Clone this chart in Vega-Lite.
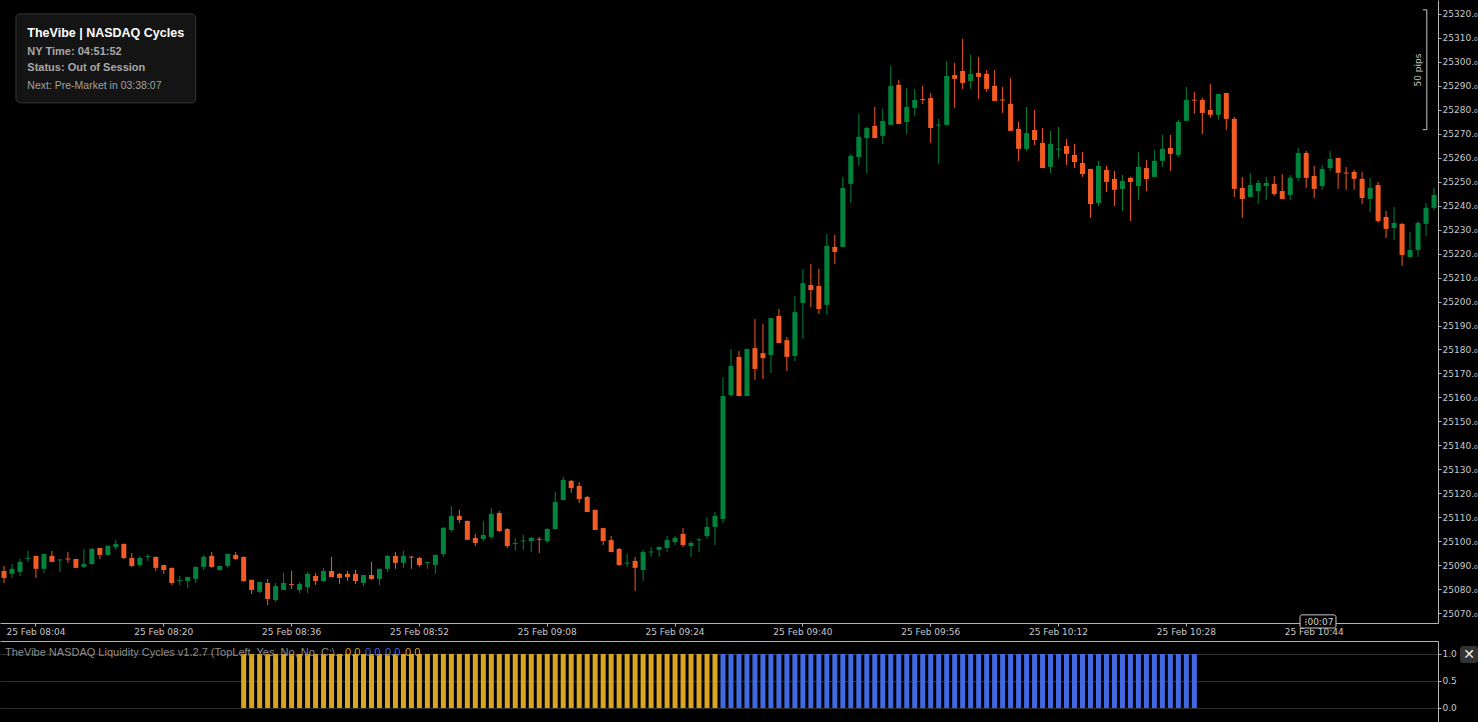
{
  "$schema": "https://vega.github.io/schema/vega-lite/v6.json",
  "background": "#000000",
  "padding": 0,
  "spacing": 5,
  "config": {
    "view": {"stroke": null},
    "axis": {"labelFont": "DejaVu Sans", "labelFontSize": 9, "labelColor": "#c8c8c8", "domainColor": "#b4b4b4", "tickColor": "#b4b4b4", "tickSize": 3, "title": null, "labelOverlap": false}
  },
  "datasets": {
    "candles": [
      {"t":"08:00","o":25087.6,"h":25089.7,"l":25082.6,"c":25084.7},
      {"t":"08:01","o":25086.4,"h":25090.5,"l":25084.7,"c":25088.5},
      {"t":"08:02","o":25087.2,"h":25092.6,"l":25085.5,"c":25091.4},
      {"t":"08:03","o":25092.7,"h":25096.0,"l":25091.4,"c":25093.1},
      {"t":"08:04","o":25093.9,"h":25094.0,"l":25084.7,"c":25088.5},
      {"t":"08:05","o":25088.5,"h":25094.8,"l":25086.8,"c":25094.7},
      {"t":"08:06","o":25093.9,"h":25096.0,"l":25091.3,"c":25091.4},
      {"t":"08:07","o":25092.0,"h":25092.6,"l":25087.2,"c":25092.4},
      {"t":"08:08","o":25092.8,"h":25095.5,"l":25091.0,"c":25092.4},
      {"t":"08:09","o":25092.6,"h":25092.7,"l":25088.8,"c":25088.9},
      {"t":"08:10","o":25089.3,"h":25096.8,"l":25088.9,"c":25090.5},
      {"t":"08:11","o":25090.5,"h":25097.2,"l":25090.1,"c":25096.8},
      {"t":"08:12","o":25097.2,"h":25097.3,"l":25092.6,"c":25094.3},
      {"t":"08:13","o":25094.3,"h":25098.2,"l":25093.9,"c":25098.1},
      {"t":"08:14","o":25097.6,"h":25100.6,"l":25096.4,"c":25098.9},
      {"t":"08:15","o":25098.9,"h":25099.0,"l":25092.6,"c":25093.0},
      {"t":"08:16","o":25093.0,"h":25095.1,"l":25089.3,"c":25089.7},
      {"t":"08:17","o":25090.1,"h":25093.9,"l":25089.3,"c":25093.0},
      {"t":"08:18","o":25093.4,"h":25094.7,"l":25091.8,"c":25093.8},
      {"t":"08:19","o":25093.5,"h":25093.6,"l":25087.6,"c":25088.9},
      {"t":"08:20","o":25090.1,"h":25090.2,"l":25086.4,"c":25088.0},
      {"t":"08:21","o":25088.9,"h":25089.0,"l":25081.8,"c":25082.6},
      {"t":"08:22","o":25083.4,"h":25085.5,"l":25081.8,"c":25083.8},
      {"t":"08:23","o":25083.4,"h":25085.2,"l":25080.5,"c":25085.1},
      {"t":"08:24","o":25084.3,"h":25089.4,"l":25082.6,"c":25089.3},
      {"t":"08:25","o":25089.3,"h":25094.3,"l":25088.0,"c":25093.5},
      {"t":"08:26","o":25093.9,"h":25095.5,"l":25088.9,"c":25089.3},
      {"t":"08:27","o":25088.0,"h":25089.8,"l":25087.6,"c":25089.7},
      {"t":"08:28","o":25089.7,"h":25094.8,"l":25088.9,"c":25094.7},
      {"t":"08:29","o":25094.3,"h":25095.5,"l":25092.2,"c":25092.6},
      {"t":"08:30","o":25093.5,"h":25093.6,"l":25083.0,"c":25083.4},
      {"t":"08:31","o":25083.9,"h":25084.0,"l":25078.0,"c":25079.7},
      {"t":"08:32","o":25078.9,"h":25083.1,"l":25078.4,"c":25083.0},
      {"t":"08:33","o":25082.6,"h":25084.3,"l":25073.4,"c":25075.9},
      {"t":"08:34","o":25075.5,"h":25082.6,"l":25074.7,"c":25081.3},
      {"t":"08:35","o":25079.7,"h":25086.8,"l":25079.6,"c":25082.6},
      {"t":"08:36","o":25082.2,"h":25087.6,"l":25080.1,"c":25081.8},
      {"t":"08:37","o":25079.7,"h":25083.0,"l":25078.4,"c":25082.2},
      {"t":"08:38","o":25080.9,"h":25087.2,"l":25078.4,"c":25086.4},
      {"t":"08:39","o":25085.5,"h":25086.8,"l":25081.8,"c":25083.4},
      {"t":"08:40","o":25083.4,"h":25088.9,"l":25083.0,"c":25087.6},
      {"t":"08:41","o":25087.6,"h":25093.5,"l":25085.0,"c":25085.1},
      {"t":"08:42","o":25086.4,"h":25086.8,"l":25082.2,"c":25084.7},
      {"t":"08:43","o":25086.4,"h":25087.6,"l":25083.4,"c":25085.1},
      {"t":"08:44","o":25086.4,"h":25088.0,"l":25082.2,"c":25083.4},
      {"t":"08:45","o":25082.6,"h":25086.0,"l":25081.3,"c":25085.9},
      {"t":"08:46","o":25085.9,"h":25091.4,"l":25083.9,"c":25084.3},
      {"t":"08:47","o":25084.3,"h":25088.6,"l":25081.8,"c":25088.5},
      {"t":"08:48","o":25088.5,"h":25094.3,"l":25087.2,"c":25093.9},
      {"t":"08:49","o":25093.9,"h":25095.5,"l":25088.5,"c":25091.0},
      {"t":"08:50","o":25091.0,"h":25096.0,"l":25088.9,"c":25093.9},
      {"t":"08:51","o":25093.6,"h":25093.9,"l":25088.5,"c":25093.2},
      {"t":"08:52","o":25093.0,"h":25093.5,"l":25089.3,"c":25090.1},
      {"t":"08:53","o":25090.9,"h":25091.4,"l":25088.5,"c":25091.3},
      {"t":"08:54","o":25090.1,"h":25094.4,"l":25086.4,"c":25094.3},
      {"t":"08:55","o":25094.7,"h":25105.9,"l":25093.5,"c":25105.6},
      {"t":"08:56","o":25104.7,"h":25114.7,"l":25103.9,"c":25110.6},
      {"t":"08:57","o":25110.6,"h":25113.1,"l":25107.6,"c":25108.9},
      {"t":"08:58","o":25108.5,"h":25108.6,"l":25100.5,"c":25100.6},
      {"t":"08:59","o":25101.4,"h":25103.1,"l":25098.0,"c":25099.3},
      {"t":"09:00","o":25101.0,"h":25108.5,"l":25100.1,"c":25102.6},
      {"t":"09:01","o":25101.8,"h":25113.9,"l":25101.0,"c":25111.4},
      {"t":"09:02","o":25111.8,"h":25112.6,"l":25103.9,"c":25104.3},
      {"t":"09:03","o":25105.1,"h":25105.5,"l":25097.2,"c":25098.0},
      {"t":"09:04","o":25098.9,"h":25101.4,"l":25096.0,"c":25099.3},
      {"t":"09:05","o":25099.9,"h":25102.6,"l":25096.4,"c":25100.3},
      {"t":"09:06","o":25100.1,"h":25101.8,"l":25095.5,"c":25101.4},
      {"t":"09:07","o":25101.0,"h":25101.8,"l":25095.1,"c":25100.6},
      {"t":"09:08","o":25100.1,"h":25105.5,"l":25099.3,"c":25105.1},
      {"t":"09:09","o":25105.1,"h":25120.6,"l":25105.0,"c":25116.4},
      {"t":"09:10","o":25117.2,"h":25126.8,"l":25117.1,"c":25125.6},
      {"t":"09:11","o":25125.2,"h":25125.6,"l":25120.2,"c":25122.2},
      {"t":"09:12","o":25123.1,"h":25124.7,"l":25116.0,"c":25117.6},
      {"t":"09:13","o":25118.5,"h":25118.9,"l":25112.1,"c":25112.2},
      {"t":"09:14","o":25113.1,"h":25113.2,"l":25104.6,"c":25104.7},
      {"t":"09:15","o":25105.5,"h":25105.6,"l":25098.4,"c":25100.1},
      {"t":"09:16","o":25100.5,"h":25102.2,"l":25095.4,"c":25095.5},
      {"t":"09:17","o":25096.8,"h":25097.2,"l":25089.7,"c":25090.1},
      {"t":"09:18","o":25090.7,"h":25094.7,"l":25089.3,"c":25091.1},
      {"t":"09:19","o":25091.8,"h":25093.5,"l":25079.3,"c":25088.9},
      {"t":"09:20","o":25088.0,"h":25096.4,"l":25083.4,"c":25095.5},
      {"t":"09:21","o":25095.3,"h":25097.6,"l":25093.5,"c":25095.7},
      {"t":"09:22","o":25096.4,"h":25098.0,"l":25093.5,"c":25097.6},
      {"t":"09:23","o":25097.2,"h":25102.2,"l":25095.5,"c":25100.5},
      {"t":"09:24","o":25099.7,"h":25102.2,"l":25098.4,"c":25101.4},
      {"t":"09:25","o":25103.1,"h":25105.5,"l":25097.6,"c":25098.4},
      {"t":"09:26","o":25098.0,"h":25100.1,"l":25093.5,"c":25099.3},
      {"t":"09:27","o":25100.4,"h":25101.4,"l":25095.5,"c":25100.8},
      {"t":"09:28","o":25102.2,"h":25110.1,"l":25101.0,"c":25106.0},
      {"t":"09:29","o":25106.0,"h":25112.2,"l":25098.4,"c":25110.6},
      {"t":"09:30","o":25109.3,"h":25168.5,"l":25107.6,"c":25160.6},
      {"t":"09:31","o":25161.0,"h":25180.2,"l":25160.5,"c":25173.1},
      {"t":"09:32","o":25176.9,"h":25179.4,"l":25160.5,"c":25160.6},
      {"t":"09:33","o":25160.6,"h":25180.3,"l":25160.5,"c":25180.2},
      {"t":"09:34","o":25180.6,"h":25192.7,"l":25167.3,"c":25171.9},
      {"t":"09:35","o":25178.5,"h":25190.6,"l":25167.7,"c":25176.4},
      {"t":"09:36","o":25177.7,"h":25193.2,"l":25170.2,"c":25193.1},
      {"t":"09:37","o":25194.0,"h":25196.9,"l":25182.6,"c":25182.7},
      {"t":"09:38","o":25183.9,"h":25185.2,"l":25171.0,"c":25176.9},
      {"t":"09:39","o":25177.3,"h":25202.3,"l":25175.2,"c":25195.6},
      {"t":"09:40","o":25199.4,"h":25213.6,"l":25184.4,"c":25207.7},
      {"t":"09:41","o":25206.9,"h":25215.7,"l":25197.7,"c":25204.8},
      {"t":"09:42","o":25206.5,"h":25213.6,"l":25194.8,"c":25196.9},
      {"t":"09:43","o":25198.6,"h":25228.2,"l":25194.4,"c":25223.2},
      {"t":"09:44","o":25222.8,"h":25227.8,"l":25215.7,"c":25220.7},
      {"t":"09:45","o":25222.8,"h":25252.0,"l":25222.7,"c":25247.4},
      {"t":"09:46","o":25249.1,"h":25261.6,"l":25241.1,"c":25260.7},
      {"t":"09:47","o":25260.3,"h":25278.3,"l":25256.6,"c":25268.7},
      {"t":"09:48","o":25268.2,"h":25272.8,"l":25253.6,"c":25272.4},
      {"t":"09:49","o":25273.3,"h":25281.2,"l":25268.1,"c":25268.2},
      {"t":"09:50","o":25269.1,"h":25280.4,"l":25265.8,"c":25275.3},
      {"t":"09:51","o":25273.7,"h":25298.3,"l":25273.6,"c":25289.9},
      {"t":"09:52","o":25290.4,"h":25292.5,"l":25274.0,"c":25274.1},
      {"t":"09:53","o":25274.9,"h":25289.1,"l":25269.9,"c":25281.2},
      {"t":"09:54","o":25280.8,"h":25288.7,"l":25277.4,"c":25284.1},
      {"t":"09:55","o":25284.5,"h":25290.0,"l":25282.4,"c":25284.1},
      {"t":"09:56","o":25284.9,"h":25287.0,"l":25266.2,"c":25272.4},
      {"t":"09:57","o":25273.4,"h":25276.2,"l":25257.4,"c":25273.8},
      {"t":"09:58","o":25273.7,"h":25300.4,"l":25273.3,"c":25294.1},
      {"t":"09:59","o":25294.5,"h":25299.6,"l":25280.8,"c":25292.9},
      {"t":"10:00","o":25296.2,"h":25309.6,"l":25288.7,"c":25291.2},
      {"t":"10:01","o":25292.0,"h":25302.9,"l":25288.7,"c":25295.0},
      {"t":"10:02","o":25295.4,"h":25302.0,"l":25284.5,"c":25293.7},
      {"t":"10:03","o":25295.0,"h":25296.6,"l":25287.5,"c":25288.7},
      {"t":"10:04","o":25290.0,"h":25296.6,"l":25283.6,"c":25283.7},
      {"t":"10:05","o":25284.3,"h":25289.5,"l":25278.7,"c":25283.9},
      {"t":"10:06","o":25282.5,"h":25293.3,"l":25271.1,"c":25271.2},
      {"t":"10:07","o":25272.0,"h":25274.9,"l":25258.7,"c":25263.7},
      {"t":"10:08","o":25263.7,"h":25281.2,"l":25262.8,"c":25270.3},
      {"t":"10:09","o":25271.6,"h":25279.9,"l":25265.3,"c":25267.4},
      {"t":"10:10","o":25266.2,"h":25272.4,"l":25255.6,"c":25255.7},
      {"t":"10:11","o":25256.2,"h":25271.2,"l":25253.7,"c":25265.8},
      {"t":"10:12","o":25263.4,"h":25272.8,"l":25259.9,"c":25263.8},
      {"t":"10:13","o":25264.9,"h":25267.8,"l":25257.0,"c":25261.6},
      {"t":"10:14","o":25261.2,"h":25265.8,"l":25255.7,"c":25258.2},
      {"t":"10:15","o":25257.8,"h":25262.4,"l":25252.0,"c":25253.2},
      {"t":"10:16","o":25255.3,"h":25255.4,"l":25234.9,"c":25240.7},
      {"t":"10:17","o":25241.1,"h":25258.7,"l":25239.9,"c":25256.6},
      {"t":"10:18","o":25254.9,"h":25256.6,"l":25245.7,"c":25249.9},
      {"t":"10:19","o":25251.2,"h":25254.5,"l":25239.9,"c":25246.6},
      {"t":"10:20","o":25247.0,"h":25252.8,"l":25237.8,"c":25250.3},
      {"t":"10:21","o":25251.6,"h":25252.0,"l":25233.6,"c":25249.9},
      {"t":"10:22","o":25248.2,"h":25262.4,"l":25242.4,"c":25256.2},
      {"t":"10:23","o":25255.7,"h":25259.1,"l":25246.1,"c":25251.1},
      {"t":"10:24","o":25252.0,"h":25263.2,"l":25251.9,"c":25258.7},
      {"t":"10:25","o":25258.7,"h":25269.5,"l":25256.2,"c":25263.7},
      {"t":"10:26","o":25264.1,"h":25269.5,"l":25254.5,"c":25261.6},
      {"t":"10:27","o":25261.2,"h":25275.8,"l":25260.3,"c":25274.9},
      {"t":"10:28","o":25275.4,"h":25289.5,"l":25275.3,"c":25284.1},
      {"t":"10:29","o":25284.2,"h":25287.5,"l":25278.3,"c":25283.8},
      {"t":"10:30","o":25284.1,"h":25285.0,"l":25269.9,"c":25278.7},
      {"t":"10:31","o":25279.9,"h":25290.8,"l":25276.6,"c":25277.9},
      {"t":"10:32","o":25277.9,"h":25286.7,"l":25275.8,"c":25286.6},
      {"t":"10:33","o":25287.0,"h":25287.1,"l":25271.6,"c":25276.2},
      {"t":"10:34","o":25276.2,"h":25277.0,"l":25243.6,"c":25247.0},
      {"t":"10:35","o":25247.4,"h":25252.0,"l":25234.9,"c":25242.8},
      {"t":"10:36","o":25243.6,"h":25253.7,"l":25243.5,"c":25248.6},
      {"t":"10:37","o":25246.1,"h":25250.7,"l":25240.7,"c":25249.5},
      {"t":"10:38","o":25248.2,"h":25252.0,"l":25242.4,"c":25249.5},
      {"t":"10:39","o":25249.1,"h":25252.4,"l":25244.1,"c":25244.9},
      {"t":"10:40","o":25246.1,"h":25253.2,"l":25242.7,"c":25242.8},
      {"t":"10:41","o":25244.5,"h":25252.8,"l":25242.4,"c":25251.6},
      {"t":"10:42","o":25251.6,"h":25264.1,"l":25250.3,"c":25262.0},
      {"t":"10:43","o":25262.0,"h":25262.8,"l":25247.4,"c":25251.6},
      {"t":"10:44","o":25252.4,"h":25256.6,"l":25243.2,"c":25247.0},
      {"t":"10:45","o":25248.2,"h":25257.0,"l":25246.6,"c":25255.3},
      {"t":"10:46","o":25255.7,"h":25262.8,"l":25254.5,"c":25259.5},
      {"t":"10:47","o":25259.9,"h":25260.0,"l":25247.0,"c":25253.7},
      {"t":"10:48","o":25253.8,"h":25256.2,"l":25246.6,"c":25253.4},
      {"t":"10:49","o":25254.1,"h":25254.9,"l":25246.6,"c":25251.2},
      {"t":"10:50","o":25251.2,"h":25254.1,"l":25240.7,"c":25243.2},
      {"t":"10:51","o":25242.8,"h":25251.6,"l":25237.4,"c":25247.4},
      {"t":"10:52","o":25248.6,"h":25249.9,"l":25232.8,"c":25233.6},
      {"t":"10:53","o":25235.3,"h":25237.8,"l":25226.5,"c":25230.3},
      {"t":"10:54","o":25230.7,"h":25239.5,"l":25225.7,"c":25232.8},
      {"t":"10:55","o":25232.4,"h":25232.8,"l":25214.9,"c":25219.4},
      {"t":"10:56","o":25218.6,"h":25229.0,"l":25218.2,"c":25221.5},
      {"t":"10:57","o":25221.5,"h":25233.6,"l":25218.6,"c":25232.8},
      {"t":"10:58","o":25232.4,"h":25241.1,"l":25227.4,"c":25239.1},
      {"t":"10:59","o":25239.1,"h":25247.4,"l":25238.2,"c":25244.5}
    ],
    "cycles": [
      {"t":"08:30","v":1,"ph":"pre"},{"t":"08:31","v":1,"ph":"pre"},{"t":"08:32","v":1,"ph":"pre"},{"t":"08:33","v":1,"ph":"pre"},{"t":"08:34","v":1,"ph":"pre"},
      {"t":"08:35","v":1,"ph":"pre"},{"t":"08:36","v":1,"ph":"pre"},{"t":"08:37","v":1,"ph":"pre"},{"t":"08:38","v":1,"ph":"pre"},{"t":"08:39","v":1,"ph":"pre"},
      {"t":"08:40","v":1,"ph":"pre"},{"t":"08:41","v":1,"ph":"pre"},{"t":"08:42","v":1,"ph":"pre"},{"t":"08:43","v":1,"ph":"pre"},{"t":"08:44","v":1,"ph":"pre"},
      {"t":"08:45","v":1,"ph":"pre"},{"t":"08:46","v":1,"ph":"pre"},{"t":"08:47","v":1,"ph":"pre"},{"t":"08:48","v":1,"ph":"pre"},{"t":"08:49","v":1,"ph":"pre"},
      {"t":"08:50","v":1,"ph":"pre"},{"t":"08:51","v":1,"ph":"pre"},{"t":"08:52","v":1,"ph":"pre"},{"t":"08:53","v":1,"ph":"pre"},{"t":"08:54","v":1,"ph":"pre"},
      {"t":"08:55","v":1,"ph":"pre"},{"t":"08:56","v":1,"ph":"pre"},{"t":"08:57","v":1,"ph":"pre"},{"t":"08:58","v":1,"ph":"pre"},{"t":"08:59","v":1,"ph":"pre"},
      {"t":"09:00","v":1,"ph":"pre"},{"t":"09:01","v":1,"ph":"pre"},{"t":"09:02","v":1,"ph":"pre"},{"t":"09:03","v":1,"ph":"pre"},{"t":"09:04","v":1,"ph":"pre"},
      {"t":"09:05","v":1,"ph":"pre"},{"t":"09:06","v":1,"ph":"pre"},{"t":"09:07","v":1,"ph":"pre"},{"t":"09:08","v":1,"ph":"pre"},{"t":"09:09","v":1,"ph":"pre"},
      {"t":"09:10","v":1,"ph":"pre"},{"t":"09:11","v":1,"ph":"pre"},{"t":"09:12","v":1,"ph":"pre"},{"t":"09:13","v":1,"ph":"pre"},{"t":"09:14","v":1,"ph":"pre"},
      {"t":"09:15","v":1,"ph":"pre"},{"t":"09:16","v":1,"ph":"pre"},{"t":"09:17","v":1,"ph":"pre"},{"t":"09:18","v":1,"ph":"pre"},{"t":"09:19","v":1,"ph":"pre"},
      {"t":"09:20","v":1,"ph":"pre"},{"t":"09:21","v":1,"ph":"pre"},{"t":"09:22","v":1,"ph":"pre"},{"t":"09:23","v":1,"ph":"pre"},{"t":"09:24","v":1,"ph":"pre"},
      {"t":"09:25","v":1,"ph":"pre"},{"t":"09:26","v":1,"ph":"pre"},{"t":"09:27","v":1,"ph":"pre"},{"t":"09:28","v":1,"ph":"pre"},{"t":"09:29","v":1,"ph":"pre"},
      {"t":"09:30","v":1,"ph":"open"},{"t":"09:31","v":1,"ph":"open"},{"t":"09:32","v":1,"ph":"open"},{"t":"09:33","v":1,"ph":"open"},{"t":"09:34","v":1,"ph":"open"},
      {"t":"09:35","v":1,"ph":"open"},{"t":"09:36","v":1,"ph":"open"},{"t":"09:37","v":1,"ph":"open"},{"t":"09:38","v":1,"ph":"open"},{"t":"09:39","v":1,"ph":"open"},
      {"t":"09:40","v":1,"ph":"open"},{"t":"09:41","v":1,"ph":"open"},{"t":"09:42","v":1,"ph":"open"},{"t":"09:43","v":1,"ph":"open"},{"t":"09:44","v":1,"ph":"open"},
      {"t":"09:45","v":1,"ph":"open"},{"t":"09:46","v":1,"ph":"open"},{"t":"09:47","v":1,"ph":"open"},{"t":"09:48","v":1,"ph":"open"},{"t":"09:49","v":1,"ph":"open"},
      {"t":"09:50","v":1,"ph":"open"},{"t":"09:51","v":1,"ph":"open"},{"t":"09:52","v":1,"ph":"open"},{"t":"09:53","v":1,"ph":"open"},{"t":"09:54","v":1,"ph":"open"},
      {"t":"09:55","v":1,"ph":"open"},{"t":"09:56","v":1,"ph":"open"},{"t":"09:57","v":1,"ph":"open"},{"t":"09:58","v":1,"ph":"open"},{"t":"09:59","v":1,"ph":"open"},
      {"t":"10:00","v":1,"ph":"open"},{"t":"10:01","v":1,"ph":"open"},{"t":"10:02","v":1,"ph":"open"},{"t":"10:03","v":1,"ph":"open"},{"t":"10:04","v":1,"ph":"open"},
      {"t":"10:05","v":1,"ph":"open"},{"t":"10:06","v":1,"ph":"open"},{"t":"10:07","v":1,"ph":"open"},{"t":"10:08","v":1,"ph":"open"},{"t":"10:09","v":1,"ph":"open"},
      {"t":"10:10","v":1,"ph":"open"},{"t":"10:11","v":1,"ph":"open"},{"t":"10:12","v":1,"ph":"open"},{"t":"10:13","v":1,"ph":"open"},{"t":"10:14","v":1,"ph":"open"},
      {"t":"10:15","v":1,"ph":"open"},{"t":"10:16","v":1,"ph":"open"},{"t":"10:17","v":1,"ph":"open"},{"t":"10:18","v":1,"ph":"open"},{"t":"10:19","v":1,"ph":"open"},
      {"t":"10:20","v":1,"ph":"open"},{"t":"10:21","v":1,"ph":"open"},{"t":"10:22","v":1,"ph":"open"},{"t":"10:23","v":1,"ph":"open"},{"t":"10:24","v":1,"ph":"open"},
      {"t":"10:25","v":1,"ph":"open"},{"t":"10:26","v":1,"ph":"open"},{"t":"10:27","v":1,"ph":"open"},{"t":"10:28","v":1,"ph":"open"},{"t":"10:29","v":1,"ph":"open"}
    ]
  },
  "resolve": {"scale": {"x": "shared"}},
  "vconcat": [
    {
      "width": 1438,
      "height": 623,
      "layer": [
        {
          "data": {"name": "candles"},
          "mark": {"type": "rule", "strokeWidth": 1},
          "encoding": {
            "x": {"field": "t", "type": "ordinal", "scale": {"paddingInner": 0, "paddingOuter": 0},
              "axis": {"values": ["08:04","08:20","08:36","08:52","09:08","09:24","09:40","09:56","10:12","10:28","10:44"], "labelExpr": "'25 Feb ' + datum.value", "bandPosition": 0.5, "labelAngle": 0, "labelPadding": 1, "grid": false}},
            "y": {"field": "l", "type": "quantitative", "scale": {"domain": [25065.9, 25325.8], "nice": false, "zero": false},
              "axis": {"orient": "right", "values": [25070,25080,25090,25100,25110,25120,25130,25140,25150,25160,25170,25180,25190,25200,25210,25220,25230,25240,25250,25260,25270,25280,25290,25300,25310,25320], "labelExpr": "format(datum.value, 'd') + '.₀'", "labelPadding": 1, "grid": false, "labelOverlap": false, "labelSeparation": 0, "labelBound": false, "tickCount": 26}},
            "y2": {"field": "h"},
            "color": {"condition": {"test": "datum.c > datum.o", "value": "#00843d"}, "value": "#f25b24"}
          }
        },
        {
          "data": {"name": "candles"},
          "mark": {"type": "bar", "size": 5},
          "encoding": {
            "x": {"field": "t", "type": "ordinal"},
            "y": {"field": "o", "type": "quantitative"},
            "y2": {"field": "c"},
            "color": {"condition": {"test": "datum.c > datum.o", "value": "#00843d"}, "value": "#f25b24"}
          }
        },
        {
          "data": {"values": [{}]},
          "mark": {"type": "rect", "fill": "#141414", "stroke": "#363636", "strokeWidth": 1, "cornerRadius": 4},
          "encoding": {
            "x": {"datum": "08:02", "type": "ordinal", "bandPosition": 0},
            "x2": {"datum": "08:24", "bandPosition": 0.5},
            "y": {"datum": 25320.0, "type": "quantitative"},
            "y2": {"datum": 25282.9}
          }
        },
        {
          "data": {"values": [{}]},
          "mark": {"type": "text", "align": "left", "baseline": "middle", "font": "Liberation Sans", "fontSize": 12.5, "fontWeight": "bold", "color": "#ffffff"},
          "encoding": {"x": {"datum": "08:03", "type": "ordinal", "bandPosition": 0.42}, "y": {"datum": 25312.2, "type": "quantitative"}, "text": {"value": "TheVibe | NASDAQ Cycles"}}
        },
        {
          "data": {"values": [{}]},
          "mark": {"type": "text", "align": "left", "baseline": "middle", "font": "Liberation Sans", "fontSize": 11, "fontWeight": "bold", "color": "#a8a8a8"},
          "encoding": {"x": {"datum": "08:03", "type": "ordinal", "bandPosition": 0.42}, "y": {"datum": 25304.3, "type": "quantitative"}, "text": {"value": "NY Time: 04:51:52"}}
        },
        {
          "data": {"values": [{}]},
          "mark": {"type": "text", "align": "left", "baseline": "middle", "font": "Liberation Sans", "fontSize": 11, "fontWeight": "bold", "color": "#a8a8a8"},
          "encoding": {"x": {"datum": "08:03", "type": "ordinal", "bandPosition": 0.42}, "y": {"datum": 25297.6, "type": "quantitative"}, "text": {"value": "Status: Out of Session"}}
        },
        {
          "data": {"values": [{}]},
          "mark": {"type": "text", "align": "left", "baseline": "middle", "font": "Liberation Sans", "fontSize": 10.5, "color": "#a0a0a0"},
          "encoding": {"x": {"datum": "08:03", "type": "ordinal", "bandPosition": 0.42}, "y": {"datum": 25289.8, "type": "quantitative"}, "text": {"value": "Next: Pre-Market in 03:38:07"}}
        },
        {
          "data": {"values": [{}]},
          "mark": {"type": "rule", "color": "#c8c8c8"},
          "encoding": {"x": {"datum": "10:58", "type": "ordinal", "bandPosition": 0.6}, "y": {"datum": 25321.7, "type": "quantitative"}, "y2": {"datum": 25271.7}}
        },
        {
          "data": {"values": [{}]},
          "mark": {"type": "rule", "color": "#c8c8c8"},
          "encoding": {"x": {"datum": "10:58", "type": "ordinal", "bandPosition": 0.1}, "x2": {"datum": "10:58", "bandPosition": 0.6}, "y": {"datum": 25321.7, "type": "quantitative"}}
        },
        {
          "data": {"values": [{}]},
          "mark": {"type": "rule", "color": "#c8c8c8"},
          "encoding": {"x": {"datum": "10:58", "type": "ordinal", "bandPosition": 0.1}, "x2": {"datum": "10:58", "bandPosition": 0.6}, "y": {"datum": 25271.7, "type": "quantitative"}}
        },
        {
          "data": {"values": [{}]},
          "mark": {"type": "text", "angle": 270, "align": "center", "baseline": "middle", "font": "DejaVu Sans", "fontSize": 9, "color": "#c8c8c8"},
          "encoding": {"x": {"datum": "10:57", "type": "ordinal"}, "y": {"datum": 25296.6, "type": "quantitative"}, "text": {"value": "50 pips"}}
        },
        {
          "data": {"values": [{}]},
          "mark": {"type": "rect", "fill": "#000000", "stroke": "#c8c8c8", "strokeWidth": 1, "cornerRadius": 2},
          "encoding": {
            "x": {"datum": "10:42", "type": "ordinal", "bandPosition": 0.73},
            "x2": {"datum": "10:47", "bandPosition": 0.23},
            "y": {"datum": 25069.3, "type": "quantitative"},
            "y2": {"datum": 25063.8}
          }
        },
        {
          "data": {"values": [{}]},
          "mark": {"type": "text", "align": "center", "baseline": "middle", "font": "DejaVu Sans", "fontSize": 9, "color": "#d0d0d0"},
          "encoding": {"x": {"datum": "10:45", "type": "ordinal", "bandPosition": 0.1}, "y": {"datum": 25066.5, "type": "quantitative"}, "text": {"value": "⁞00:07"}}
        }
      ]
    },
    {
      "width": 1438,
      "height": 81,
      "layer": [
        {
          "data": {"name": "cycles"},
          "mark": {"type": "bar", "size": 5},
          "encoding": {
            "x": {"field": "t", "type": "ordinal", "axis": {"orient": "top", "labels": false, "ticks": false, "grid": false}},
            "y": {"field": "v", "type": "quantitative", "scale": {"domain": [-0.26, 1.24], "nice": false, "zero": false},
              "axis": {"orient": "right", "values": [0, 0.5, 1], "format": ".1f", "labelPadding": 1, "grid": true, "gridColor": "#303030"}},
            "y2": {"datum": 0},
            "color": {"field": "ph", "type": "nominal", "scale": {"domain": ["pre", "open"], "range": ["#daa520", "#4169e1"]}, "legend": null}
          }
        },
        {
          "data": {"values": [{}]},
          "mark": {"type": "text", "align": "left", "baseline": "middle", "font": "Liberation Sans", "fontSize": 11, "color": "#8c8c8c"},
          "encoding": {"x": {"datum": "08:00", "type": "ordinal", "bandPosition": 0.63}, "y": {"datum": 1.02, "type": "quantitative"}, "text": {"value": "TheVibe NASDAQ Liquidity Cycles v1.2.7 (TopLeft, Yes, No, No, C:\\..."}}
        },
        {
          "data": {"values": [{}]},
          "mark": {"type": "text", "align": "left", "baseline": "middle", "font": "Liberation Sans", "fontSize": 11, "color": "#daa520"},
          "encoding": {"x": {"datum": "08:43", "type": "ordinal", "bandPosition": 0.19}, "y": {"datum": 1.02, "type": "quantitative"}, "text": {"value": "0.0"}}
        },
        {
          "data": {"values": [{}]},
          "mark": {"type": "text", "align": "left", "baseline": "middle", "font": "Liberation Sans", "fontSize": 11, "color": "#4169e1"},
          "encoding": {"x": {"datum": "08:45", "type": "ordinal", "bandPosition": 0.69}, "y": {"datum": 1.02, "type": "quantitative"}, "text": {"value": "0.0"}}
        },
        {
          "data": {"values": [{}]},
          "mark": {"type": "text", "align": "left", "baseline": "middle", "font": "Liberation Sans", "fontSize": 11, "color": "#4169e1"},
          "encoding": {"x": {"datum": "08:48", "type": "ordinal", "bandPosition": 0.19}, "y": {"datum": 1.02, "type": "quantitative"}, "text": {"value": "0.0"}}
        },
        {
          "data": {"values": [{}]},
          "mark": {"type": "text", "align": "left", "baseline": "middle", "font": "Liberation Sans", "fontSize": 11, "color": "#daa520"},
          "encoding": {"x": {"datum": "08:50", "type": "ordinal", "bandPosition": 0.69}, "y": {"datum": 1.02, "type": "quantitative"}, "text": {"value": "0.0"}}
        },
        {
          "data": {"values": [{}]},
          "mark": {"type": "rect", "fill": "#333333", "cornerRadius": 3, "xOffset": 22, "x2Offset": 40},
          "encoding": {"x": {"datum": "10:59", "type": "ordinal", "bandPosition": 1}, "x2": {"datum": "10:59", "bandPosition": 1}, "y": {"datum": 1.148, "type": "quantitative"}, "y2": {"datum": 0.833}}
        },
        {
          "data": {"values": [{}]},
          "mark": {"type": "text", "align": "center", "baseline": "middle", "font": "DejaVu Sans", "fontSize": 14, "fontWeight": "bold", "color": "#eeeeee", "xOffset": 31},
          "encoding": {"x": {"datum": "10:59", "type": "ordinal", "bandPosition": 1}, "y": {"datum": 0.99, "type": "quantitative"}, "text": {"value": "✕"}}
        }
      ]
    }
  ]
}
